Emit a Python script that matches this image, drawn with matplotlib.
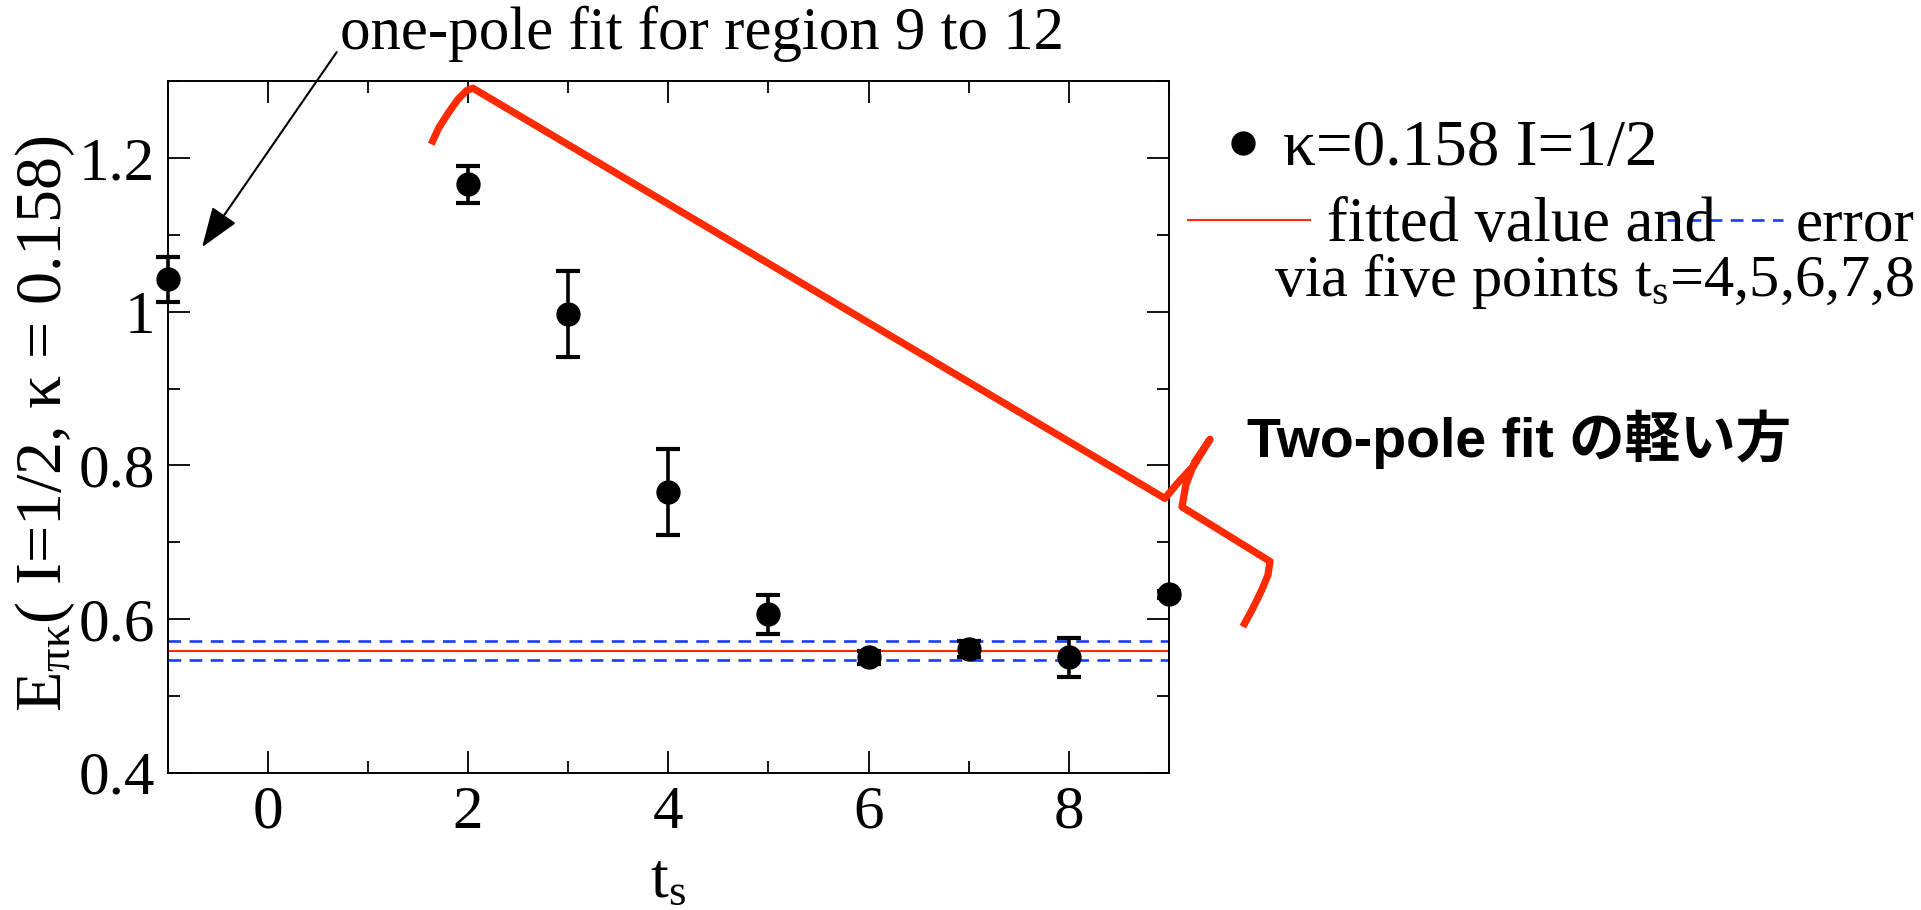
import matplotlib
matplotlib.use("Agg")
import matplotlib.pyplot as plt
from matplotlib.lines import Line2D
from matplotlib.ticker import FormatStrFormatter, MultipleLocator

plt.rcParams["font.family"] = ["Liberation Serif", "DejaVu Serif"]
plt.rcParams["mathtext.fontset"] = "custom"
plt.rcParams["mathtext.rm"] = "Liberation Serif"
plt.rcParams["mathtext.it"] = "Liberation Serif:italic"
plt.rcParams["mathtext.bf"] = "Liberation Serif:bold"

# measured effective energy vs t_s
ts = [-1, 2, 3, 4, 5, 6, 7, 8, 9]
energy = [1.042, 1.166, 0.997, 0.765, 0.606, 0.550, 0.561, 0.550, 0.632]
energy_err = [0.029, 0.024, 0.056, 0.056, 0.025, 0.009, 0.011, 0.025, 0.004]

# plateau fit over t_s = 4..8
fit_value = 0.559
fit_err = 0.0127

# hand-drawn red brace (t_s, E) vertices
brace_t = [1.633, 1.707, 1.805, 1.903, 1.988, 2.049, 8.96, 9.08, 9.25, 9.41,
           9.26, 9.17, 9.13, 10.01, 9.988, 9.928, 9.838, 9.738]
brace_e = [1.218, 1.239, 1.259, 1.277, 1.288, 1.291, 0.757, 0.776, 0.800, 0.834,
           0.805, 0.775, 0.746, 0.675, 0.657, 0.638, 0.614, 0.590]

xticks = [0, 2, 4, 6, 8]
yticks = [0.4, 0.6, 0.8, 1.0, 1.2]

RED = "#ff2a00"
BLUE = "#1a3cff"
DASH = (0, (4.8, 3.2))

fig = plt.figure(figsize=(19.21, 9.10), dpi=100)
ax = fig.add_axes([0.0872, 0.1509, 0.5213, 0.7598])

ax.axhline(fit_value, color=RED, lw=1.5, zorder=2)
for v in (fit_value - fit_err, fit_value + fit_err):
    ax.axhline(v, color=BLUE, lw=1.9, ls=DASH, zorder=2)

ax.errorbar(ts, energy, yerr=energy_err, fmt="o", color="black", ms=16.5,
            elinewidth=2.6, capsize=8.5, capthick=3, clip_on=False, zorder=4)

ax.plot(brace_t, brace_e, color=RED, lw=5.2, solid_joinstyle="round",
        solid_capstyle="butt", clip_on=False, zorder=5)

ax.set_xlim(-1, 9)
ax.set_ylim(0.4, 1.3)
ax.set_xticks(xticks)
ax.set_yticks(yticks)
ax.xaxis.set_minor_locator(MultipleLocator(1))
ax.yaxis.set_minor_locator(MultipleLocator(0.1))
ax.yaxis.set_major_formatter(FormatStrFormatter("%g"))
ax.tick_params(which="both", direction="in", top=True, right=True, width=1.3)
ax.tick_params(which="major", length=16, labelsize=44, pad=9)
ax.tick_params(which="minor", length=8.5)
for s in ax.spines.values():
    s.set_linewidth(1.4)

ax.set_xlabel(r"t$_{\mathrm{s}}$", fontsize=46, labelpad=9)
ax.set_ylabel(r"E$_{\mathrm{πκ}}$( I=1/2, κ = 0.158)", fontsize=47.5, va="center")
ax.yaxis.set_label_coords(-0.122, 0.505)

# one-pole annotation
ax.annotate("", xy=(-0.655, 1.084), xytext=(0.69, 1.338),
            arrowprops=dict(arrowstyle="-|>,head_length=1.0,head_width=0.36",
                            color="black", lw=1.5, mutation_scale=25,
                            shrinkA=0, shrinkB=0),
            annotation_clip=False)
fig.text(0.177, 0.946, "one-pole fit for region 9 to 12", fontsize=43.8, va="baseline")

# custom legend
fig.add_artist(Line2D([0.6471], [0.8429], marker="o", ms=16.5, color="black",
                      transform=fig.transFigure))
fig.text(0.668, 0.8187, "κ=0.158 I=1/2", fontsize=47, va="baseline")
fig.add_artist(Line2D([0.6184, 0.6819], [0.7582, 0.7582], color=RED, lw=1.5,
                      transform=fig.transFigure))
fig.text(0.6908, 0.7352, "fitted value and", fontsize=45, va="baseline")
fig.add_artist(Line2D([0.8678, 0.9282], [0.7582, 0.7582], color=BLUE, lw=1.9,
                      ls=DASH, transform=fig.transFigure))
fig.text(0.9345, 0.7352, "error", fontsize=44, va="baseline")
fig.text(0.6632, 0.6747, r"via five points t$_{\mathrm{s}}$=4,5,6,7,8", fontsize=43.5,
         va="baseline")

fig.text(0.6491, 0.4978, "Two-pole fit の軽い方", fontsize=40, fontweight="bold",
         family=["Liberation Sans", "Noto Sans CJK JP"], va="baseline")

fig.savefig("out.png", dpi=100)
